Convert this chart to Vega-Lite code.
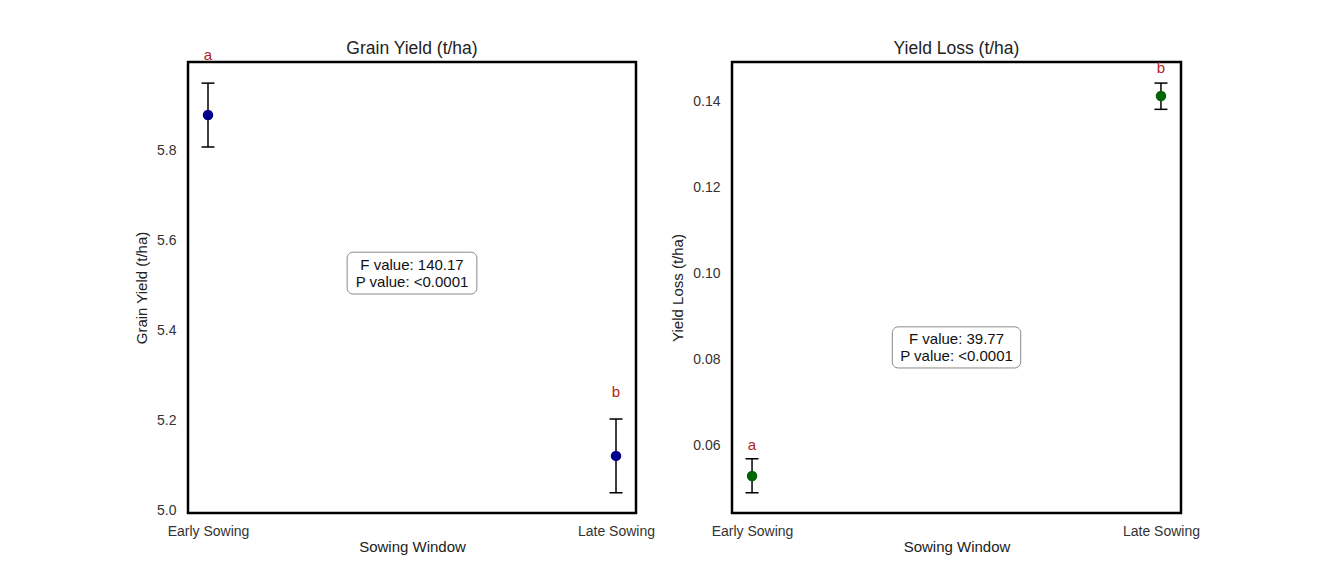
{
  "$schema": "https://vega.github.io/schema/vega-lite/v6.json",
  "background": "white",
  "padding": {"left": 133, "top": 38, "right": 5, "bottom": 5},
  "spacing": 13,
  "config": {
    "font": "Liberation Sans",
    "view": {"stroke": "black", "strokeWidth": 2.5},
    "axis": {"grid": false, "ticks": false, "domain": false, "labelFontSize": 14, "labelColor": "#333333", "titleFontSize": 15, "titleFontWeight": "normal", "titleColor": "#222222", "labelFont": "Liberation Sans", "titleFont": "Liberation Sans"},
    "title": {"fontSize": 17.5, "fontWeight": "normal", "color": "#222222", "font": "Liberation Sans", "offset": 4}
  },
  "datasets": {
    "grain": [
      {"window": "Early Sowing", "pos": 0, "mean": 5.879, "lo": 5.808, "hi": 5.95, "letter": "a", "letterY": 6.012},
      {"window": "Late Sowing", "pos": 1, "mean": 5.121, "lo": 5.039, "hi": 5.203, "letter": "b", "letterY": 5.263}
    ],
    "grainNote": [
      {"x1": 0.341, "x2": 0.659, "y1": 5.481, "y2": 5.574, "xc": 0.5, "yc": 5.5275, "label": "F value: 140.17\nP value: <0.0001"}
    ],
    "loss": [
      {"window": "Early Sowing", "pos": 0, "mean": 0.0529, "lo": 0.049, "hi": 0.0569, "letter": "a", "letterY": 0.0600},
      {"window": "Late Sowing", "pos": 1, "mean": 0.1412, "lo": 0.1381, "hi": 0.1442, "letter": "b", "letterY": 0.1477}
    ],
    "lossNote": [
      {"x1": 0.343, "x2": 0.657, "y1": 0.0780, "y2": 0.08756, "xc": 0.5, "yc": 0.08278, "label": "F value: 39.77\nP value: <0.0001"}
    ]
  },
  "hconcat": [
    {
      "title": {"text": "Grain Yield (t/ha)", "fontSize": 17.5, "fontWeight": "normal", "color": "#222222", "offset": 4, "dy": 13},
      "width": 448,
      "height": 451,
      "layer": [
        {
          "data": {"name": "grainNote"},
          "mark": {"type": "rect", "fill": "white", "stroke": "#888888", "strokeWidth": 1, "cornerRadius": 6},
          "encoding": {
            "x": {"field": "x1", "type": "quantitative", "scale": {"domain": [-0.049, 1.049], "nice": false, "zero": false}, "axis": {"values": [0, 1], "labelExpr": "datum.value == 0 ? 'Early Sowing' : 'Late Sowing'", "title": "Sowing Window", "labelPadding": 11, "titlePadding": 1}},
            "x2": {"field": "x2"},
            "y": {"field": "y1", "type": "quantitative", "scale": {"domain": [4.994, 5.997], "nice": false, "zero": false}, "axis": {"values": [5.0, 5.2, 5.4, 5.6, 5.8], "format": ".1f", "title": "Grain Yield (t/ha)", "labelPadding": 12, "titlePadding": 7}},
            "y2": {"field": "y2"}
          }
        },
        {
          "data": {"name": "grainNote"},
          "mark": {"type": "text", "fontSize": 15, "lineBreak": "\n", "color": "#111111", "baseline": "middle", "lineHeight": 17, "dy": -8.5},
          "encoding": {
            "x": {"field": "xc", "type": "quantitative"},
            "y": {"field": "yc", "type": "quantitative"},
            "text": {"field": "label"}
          }
        },
        {
          "data": {"name": "grain"},
          "mark": {"type": "rule", "color": "black", "strokeWidth": 1.5},
          "encoding": {
            "x": {"field": "pos", "type": "quantitative"},
            "y": {"field": "lo", "type": "quantitative"},
            "y2": {"field": "hi"}
          }
        },
        {
          "data": {"name": "grain"},
          "mark": {"type": "tick", "orient": "horizontal", "color": "black", "size": 13, "thickness": 1.5, "opacity": 1},
          "encoding": {
            "x": {"field": "pos", "type": "quantitative"},
            "y": {"field": "lo", "type": "quantitative"}
          }
        },
        {
          "data": {"name": "grain"},
          "mark": {"type": "tick", "orient": "horizontal", "color": "black", "size": 13, "thickness": 1.5, "opacity": 1},
          "encoding": {
            "x": {"field": "pos", "type": "quantitative"},
            "y": {"field": "hi", "type": "quantitative"}
          }
        },
        {
          "data": {"name": "grain"},
          "mark": {"type": "point", "filled": true, "opacity": 1, "size": 110, "color": "#00008B"},
          "encoding": {
            "x": {"field": "pos", "type": "quantitative"},
            "y": {"field": "mean", "type": "quantitative"}
          }
        },
        {
          "data": {"name": "grain"},
          "mark": {"type": "text", "fontSize": 15, "color": "#B22222", "baseline": "middle"},
          "encoding": {
            "x": {"field": "pos", "type": "quantitative"},
            "y": {"field": "letterY", "type": "quantitative"},
            "text": {"field": "letter"}
          }
        }
      ]
    },
    {
      "title": {"text": "Yield Loss (t/ha)", "fontSize": 17.5, "fontWeight": "normal", "color": "#222222", "offset": 4},
      "width": 449,
      "height": 451,
      "layer": [
        {
          "data": {"name": "lossNote"},
          "mark": {"type": "rect", "fill": "white", "stroke": "#888888", "strokeWidth": 1, "cornerRadius": 6},
          "encoding": {
            "x": {"field": "x1", "type": "quantitative", "scale": {"domain": [-0.049, 1.049], "nice": false, "zero": false}, "axis": {"values": [0, 1], "labelExpr": "datum.value == 0 ? 'Early Sowing' : 'Late Sowing'", "title": "Sowing Window", "labelPadding": 11, "titlePadding": 1}},
            "x2": {"field": "x2"},
            "y": {"field": "y1", "type": "quantitative", "scale": {"domain": [0.0443, 0.1491], "nice": false, "zero": false}, "axis": {"values": [0.06, 0.08, 0.10, 0.12, 0.14], "format": ".2f", "title": "Yield Loss (t/ha)", "labelPadding": 12, "titlePadding": 7}},
            "y2": {"field": "y2"}
          }
        },
        {
          "data": {"name": "lossNote"},
          "mark": {"type": "text", "fontSize": 15, "lineBreak": "\n", "color": "#111111", "baseline": "middle", "lineHeight": 17, "dy": -8.5},
          "encoding": {
            "x": {"field": "xc", "type": "quantitative"},
            "y": {"field": "yc", "type": "quantitative"},
            "text": {"field": "label"}
          }
        },
        {
          "data": {"name": "loss"},
          "mark": {"type": "rule", "color": "black", "strokeWidth": 1.5},
          "encoding": {
            "x": {"field": "pos", "type": "quantitative"},
            "y": {"field": "lo", "type": "quantitative"},
            "y2": {"field": "hi"}
          }
        },
        {
          "data": {"name": "loss"},
          "mark": {"type": "tick", "orient": "horizontal", "color": "black", "size": 13, "thickness": 1.5, "opacity": 1},
          "encoding": {
            "x": {"field": "pos", "type": "quantitative"},
            "y": {"field": "lo", "type": "quantitative"}
          }
        },
        {
          "data": {"name": "loss"},
          "mark": {"type": "tick", "orient": "horizontal", "color": "black", "size": 13, "thickness": 1.5, "opacity": 1},
          "encoding": {
            "x": {"field": "pos", "type": "quantitative"},
            "y": {"field": "hi", "type": "quantitative"}
          }
        },
        {
          "data": {"name": "loss"},
          "mark": {"type": "point", "filled": true, "opacity": 1, "size": 110, "color": "#006400"},
          "encoding": {
            "x": {"field": "pos", "type": "quantitative"},
            "y": {"field": "mean", "type": "quantitative"}
          }
        },
        {
          "data": {"name": "loss"},
          "mark": {"type": "text", "fontSize": 15, "color": "#B22222", "baseline": "middle"},
          "encoding": {
            "x": {"field": "pos", "type": "quantitative"},
            "y": {"field": "letterY", "type": "quantitative"},
            "text": {"field": "letter"}
          }
        }
      ]
    }
  ]
}
